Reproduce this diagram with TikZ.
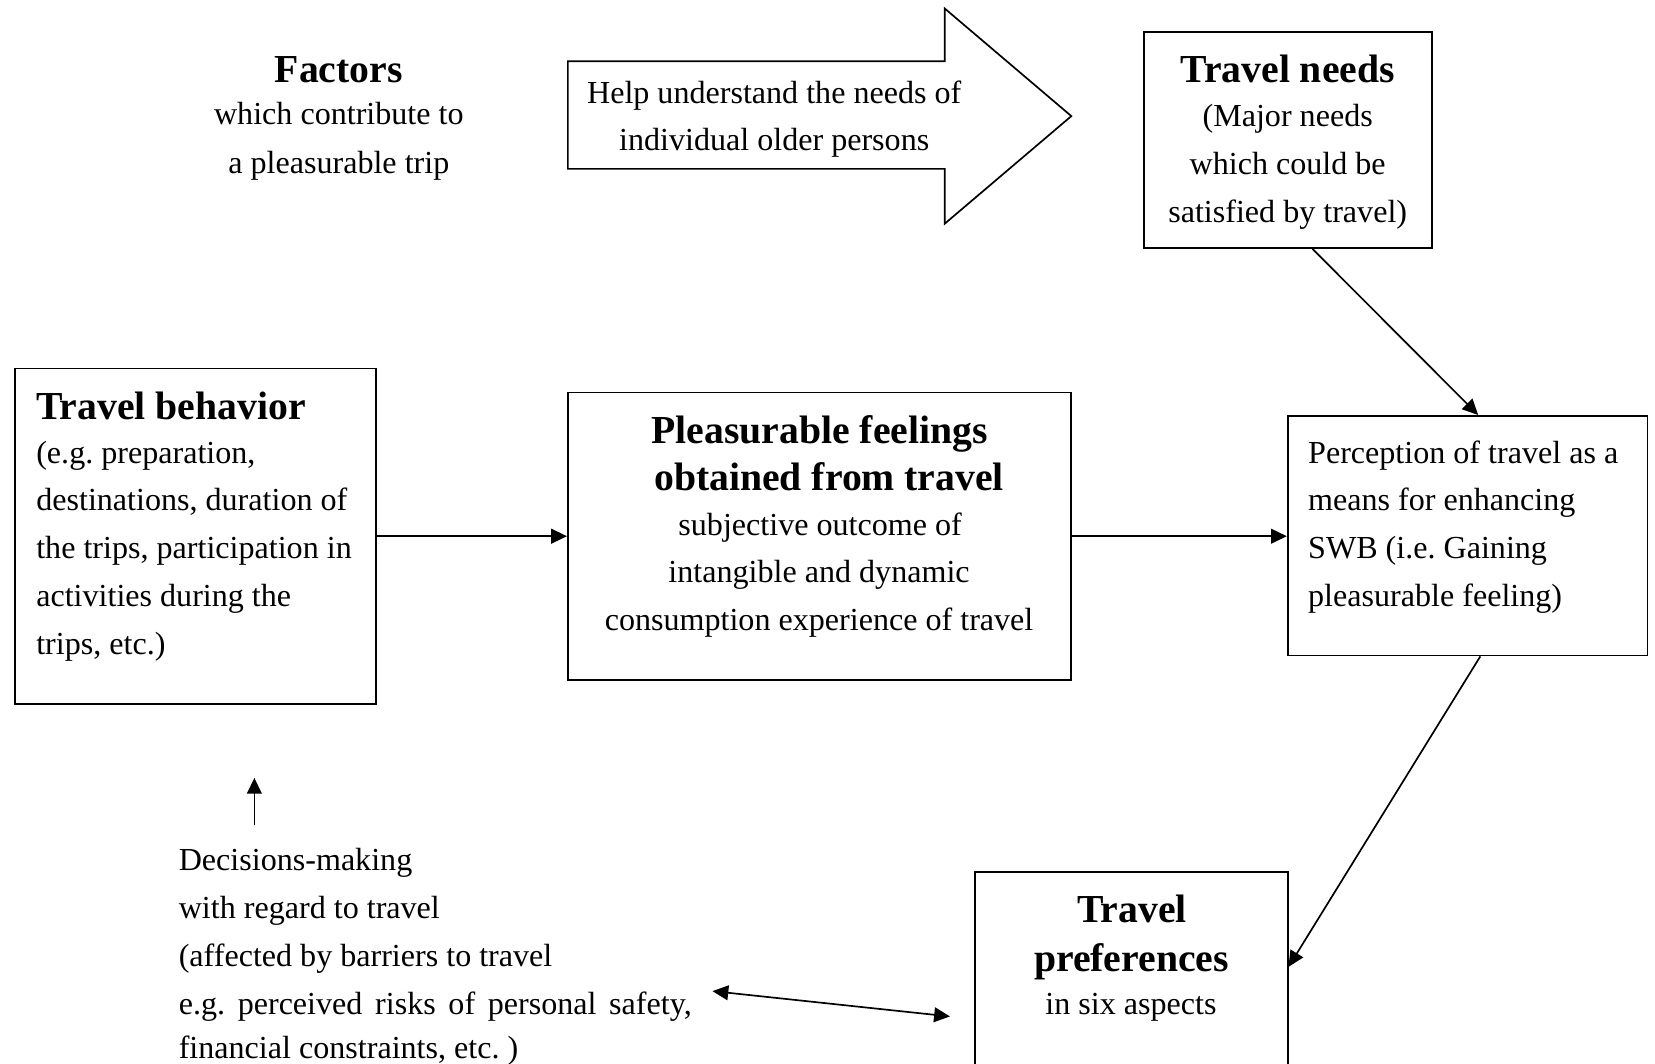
\documentclass[tikz,border=0pt]{standalone}
\usepackage{fontspec}
\setmainfont{Liberation Serif}
\usetikzlibrary{arrows.meta,fit,calc}
\frenchspacing
\begin{document}
\begin{tikzpicture}[x=0.5pt,y=-0.5pt,
  body/.style={font=\fontsize{15.2}{18}\selectfont, inner sep=0pt},
  head/.style={font=\fontsize{18.8}{22}\selectfont\bfseries, inner sep=0pt},
  box/.style={draw, line width=0.8pt, inner sep=0pt},
  conn/.style={line width=0.8pt, -{Triangle[length=7.5pt,width=7pt]}},
  dconn/.style={line width=0.8pt, {Triangle[length=7.5pt,width=7pt]}-{Triangle[length=7.5pt,width=7pt]}}]
\useasboundingbox (0,0) rectangle (1568,1008);

% Factors
\node[head, anchor=base] (fac1) at (321,78) {Factors};
\node[body, anchor=base] (fac2) at (321,118) {which contribute to};
\node[body, anchor=base] (fac3) at (321,164) {a pleasurable trip};

% block arrow
\draw[line width=0.8pt] (538,58) -- (895,58) -- (895,8) -- (1015,110) -- (895,212) -- (895,160) -- (538,160) -- cycle;
\node[body, anchor=base] (ba1) at (733.5,98) {Help understand the needs of};
\node[body, anchor=base] (ba2) at (733.5,143) {individual older persons};

% Travel needs
\node[box, fit={(1084,30) (1357,235)}] (needs) {};
\node[head, anchor=base] (n1) at (1220,78) {Travel needs};
\node[body, anchor=base] (n2) at (1220,120) {(Major needs};
\node[body, anchor=base] (n3) at (1220,165) {which could be};
\node[body, anchor=base] (n4) at (1220,211) {satisfied by travel)};

% Travel behavior
\node[box, fit={(14,349) (356,667)}] (beh) {};
\node[head, anchor=base west] (b1) at (34,397) {Travel behavior};
\node[body, anchor=base west] (b2) at (34,439) {(e.g. preparation,};
\node[body, anchor=base west] (b3) at (34,484) {destinations, duration of};
\node[body, anchor=base west] (b4) at (34,529) {the trips, participation in};
\node[body, anchor=base west] (b5) at (34,575) {activities during the};
\node[body, anchor=base west] (b6) at (34,620) {trips, etc.)};

% Pleasurable feelings
\node[box, fit={(538,372) (1015,644)}] (pleas) {};
\node[head, anchor=base] (p1) at (776.5,420) {Pleasurable feelings};
\node[head, anchor=base] (p2) at (785.5,465) {obtained from travel};
\node[body, anchor=base] (p3) at (777,507) {subjective outcome of};
\node[body, anchor=base] (p4) at (776,552) {intangible and dynamic};
\node[body, anchor=base] (p5) at (776,597) {consumption experience of travel};

% Perception
\node[box, fit={(1220,394) (1561,621)}] (perc) {};
\node[body, anchor=base west] (q1) at (1239,439) {Perception of travel as a};
\node[body, anchor=base west] (q2) at (1239,484) {means for enhancing};
\node[body, anchor=base west] (q3) at (1239,529) {SWB (i.e. Gaining};
\node[body, anchor=base west] (q4) at (1239,575) {pleasurable feeling)};

% Travel preferences
\node[box, fit={(924,826) (1220,1020)}] (pref) {};
\node[head, anchor=base] (r1) at (1072.5,874) {Travel};
\node[head, anchor=base] (r2) at (1072,920) {preferences};
\node[body, anchor=base] (r3) at (1071.5,961) {in six aspects};

% Decisions
\node[body, anchor=base west] (d1) at (169,825) {Decisions-making};
\node[body, anchor=base west] (d2) at (169,870) {with regard to travel};
\node[body, anchor=base west] (d3) at (169,916) {(affected by barriers to travel};
\node[body, anchor=base west] (d4) at (169,961) {\makebox[243pt][s]{e.g. perceived risks of personal safety,}};
\node[body, anchor=base west] (d5) at (169,1003) {financial constraints, etc. )};

% connectors
\draw[conn] (beh.east |- 0,508) -- (pleas.west |- 0,508);
\draw[conn] (pleas.east |- 0,508) -- (perc.west |- 0,508);
\draw[conn] ([xshift=11.5pt]needs.south) -- ([xshift=5pt]perc.north);
\draw[conn] ([xshift=6pt]perc.south) -- ([yshift=3.5pt]pref.east);
\coordinate (upb) at (241,782);
\coordinate (upt) at (241,737);
\draw[conn] (upb) -- (upt);
\coordinate (dl) at (675,939);
\coordinate (dr) at (900,963);
\draw[dconn] (dl) -- (dr);
\end{tikzpicture}
\end{document}
